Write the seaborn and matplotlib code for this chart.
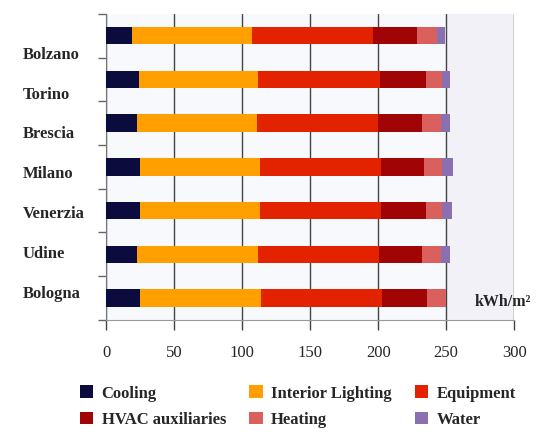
import seaborn as sns
import matplotlib.pyplot as plt
import numpy as np
import pandas as pd

cities = ["Bolzano", "Torino", "Brescia", "Milano", "Venerzia", "Udine", "Bologna"]
cooling = [19, 24, 23, 25, 25, 23, 25]
lighting = [88, 88, 88, 88, 88, 88.5, 89]
equipment = [89, 89, 89, 89, 89, 89, 89]
hvac = [32.5, 34, 32, 32, 33, 32, 33]
heating = [14.5, 12, 14, 13, 12, 14, 14]
water = [6, 6, 7, 8, 7, 6, 0]

series = ["Cooling", "Interior Lighting", "Equipment", "HVAC auxiliaries", "Heating", "Water"]
values = [cooling, lighting, equipment, hvac, heating, water]
colors = ["#0b0b3e", "#ffa000", "#e32200", "#a10404", "#d9605c", "#8a70b0"]

sns.set_style("white")
plt.rcParams["font.family"] = ["Liberation Serif", "DejaVu Serif"]

fig = plt.figure(figsize=(5.47, 4.34), dpi=100)
ax = fig.add_axes([0.194, 0.263, 0.746, 0.705])
ax.set_facecolor("#f8f9fc")
ax.axvspan(250, 300, color="#f3f1f8", zorder=0)

df = pd.DataFrame({"city": cities})
cum = np.cumsum(np.array(values), axis=0)
# draw cumulative totals from the longest down so each layer shows its own segment
for i in range(len(series) - 1, -1, -1):
    df["total"] = cum[i]
    sns.barplot(data=df, x="total", y="city", orient="h", color=colors[i],
                width=0.4, saturation=1, ax=ax, zorder=3, label=series[i],
                linewidth=0)

ax.set_xlim(0, 300)
ax.set_ylim(6.5, -0.5)
ax.set_xticks(np.arange(0, 301, 50))
ax.tick_params(axis="x", labelsize=12, length=7, width=1, color="#444444",
               bottom=True, pad=11)
ax.grid(axis="x", color="#444444", lw=1, zorder=1)
ax.grid(axis="y", visible=False)

# city labels sit a bit off the bars as in the original
label_pos = np.linspace(0.39, 5.86, len(cities))
ax.set_yticks(label_pos)
ax.set_yticklabels(cities, fontsize=12, fontweight="bold", ha="left")
ax.set_yticks(np.arange(-0.5, 7, 1), minor=True)
ax.tick_params(axis="y", which="major", length=0, pad=60)
ax.tick_params(axis="y", which="minor", length=6, width=1, color="#666666", left=True)
ax.set_xlabel("")
ax.set_ylabel("")

for s in ["top", "right"]:
    ax.spines[s].set_visible(False)
ax.spines["left"].set_color("#777777")
ax.spines["bottom"].set_color("#999999")

ax.text(292, 6.1, "kWh/m²", ha="center", va="center", fontsize=11.5,
        fontweight="bold", clip_on=False, zorder=5)

h, l = ax.get_legend_handles_labels()
lookup = dict(zip(l, h))
order = ["Cooling", "HVAC auxiliaries", "Interior Lighting", "Heating", "Equipment", "Water"]
ax.legend([lookup[k] for k in order], order, ncol=3, loc="upper center",
          bbox_to_anchor=(0.47, -0.165), frameon=False,
          prop={"weight": "bold", "size": 12}, handlelength=0.8,
          handleheight=0.8, columnspacing=1.4, labelspacing=0.6, handletextpad=0.5)

fig.savefig("out.png", dpi=100)
